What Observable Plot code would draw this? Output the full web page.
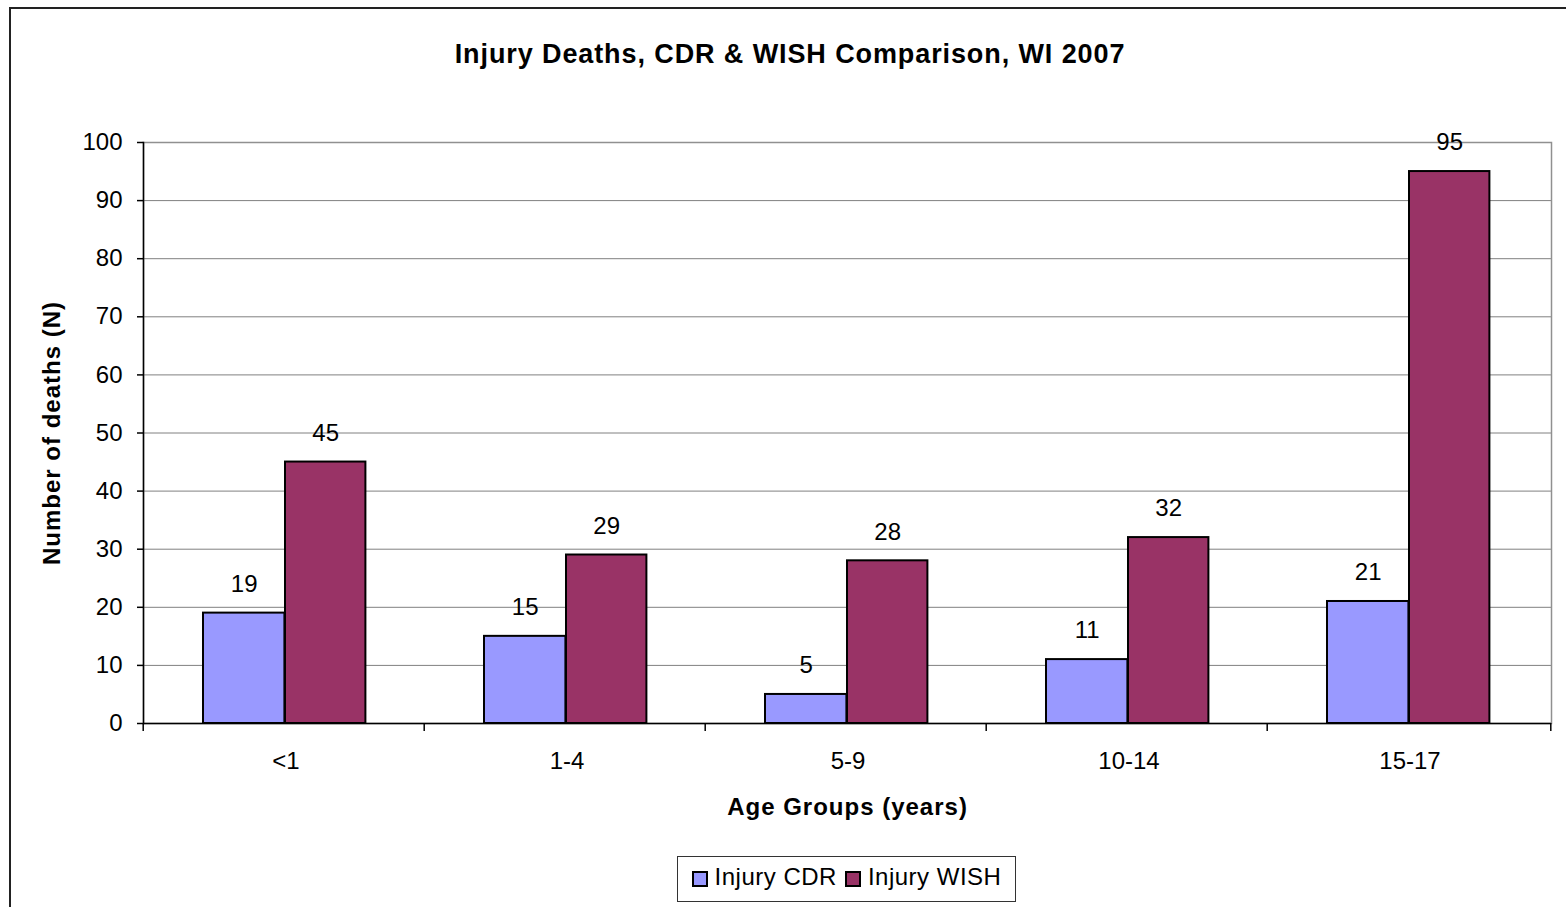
<!DOCTYPE html>
<html>
<head>
<meta charset="utf-8">
<script src="https://cdn.jsdelivr.net/npm/d3@7"></script>
<script src="https://cdn.jsdelivr.net/npm/@observablehq/plot@0.6"></script>
<style>
  html, body { margin: 0; padding: 0; background: #fff; }
  #wrap { position: relative; width: 1566px; height: 907px; overflow: hidden; font-family: "Liberation Sans", Arial, sans-serif; }
  #border { position: absolute; left: 9px; top: 7px; width: 1600px; height: 960px; border: 2px solid #222; box-sizing: border-box; }
  #title { position: absolute; left: 10px; width: 1560px; top: 39px; text-align: center; font-weight: bold; font-size: 27px; letter-spacing: 0.9px; color: #000; }
  #chart { position: absolute; left: 0; top: 0; }
  #legend { position: absolute; left: 677px; top: 856px; width: 339px; height: 46px; border: 1px solid #333; box-sizing: border-box; background: #fff;
            display: flex; align-items: center; justify-content: center; font-size: 24px; letter-spacing: 0.5px; color: #000; padding-bottom: 4px; }
  .item { display: flex; align-items: center; margin: 0 4px; }
  .sw { width: 12px; height: 12px; border: 2px solid #000; margin-right: 7px; margin-top: 4px; }
</style>
</head>
<body>
<div id="wrap">
  <div id="border"></div>
  <div id="title">Injury Deaths, CDR &amp; WISH Comparison, WI 2007</div>
  <div id="chart"></div>
  <div id="legend"></div>
</div>
<script>
const categories = ["<1", "1-4", "5-9", "10-14", "15-17"];
const cdrValues = [19, 15, 5, 11, 21];
const wishValues = [45, 29, 28, 32, 95];
const seriesNames = ["Injury CDR", "Injury WISH"];
const seriesColors = ["#9999FF", "#993366"];
const yTicks = [0, 10, 20, 30, 40, 50, 60, 70, 80, 90, 100];
const xTitle = "Age Groups (years)";
const yTitle = "Number of deaths (N)";

const cdrRows = categories.map((c, i) => ({age: c, series: seriesNames[0], value: cdrValues[i]}));
const wishRows = categories.map((c, i) => ({age: c, series: seriesNames[1], value: wishValues[i]}));

const W = 1566, H = 907;
const mL = 143, mR = 15, mT = 142, mB = 184;
const band = (W - mL - mR) / categories.length;
const font = "'Liberation Sans', Arial, sans-serif";
const shift = -2;

const chart = Plot.plot({
  width: W,
  height: H,
  marginLeft: mL,
  marginRight: mR,
  marginTop: mT,
  marginBottom: mB,
  style: {fontFamily: font, fontSize: "24px", color: "#000", background: "transparent", overflow: "visible"},
  x: {domain: categories, padding: 0, label: null},
  y: {domain: [0, 100], label: null},
  color: {domain: seriesNames, range: seriesColors},
  marks: [
    Plot.ruleY(yTicks.slice(1), {y: d => d, stroke: "#808080", strokeWidth: 1}),
    Plot.frame({stroke: "#909090", strokeWidth: 1.5}),
    Plot.barY(cdrRows, {x: "age", y: "value", fill: "series", stroke: "#000", strokeWidth: 2,
      insetLeft: 60 + shift, insetRight: band - 142 - shift}),
    Plot.barY(wishRows, {x: "age", y: "value", fill: "series", stroke: "#000", strokeWidth: 2,
      insetLeft: 142 + shift, insetRight: band - 223 - shift}),
    Plot.text(cdrRows, {x: "age", y: "value", text: d => String(d.value), dx: 101 + shift - band / 2, dy: -29,
      lineAnchor: "middle", fontSize: 24, fill: "#000"}),
    Plot.text(wishRows, {x: "age", y: "value", text: d => String(d.value), dx: 182.5 + shift - band / 2, dy: -29,
      lineAnchor: "middle", fontSize: 24, fill: "#000"}),
    Plot.ruleY([0], {stroke: "#000", strokeWidth: 1.5}),
    Plot.frame({anchor: "left", stroke: "#000", strokeWidth: 1.5}),
    Plot.axisY({ticks: yTicks, tickSize: 6, tickPadding: 15, tickFormat: d => String(d), stroke: "#000", strokeWidth: 1.5, label: null, fontSize: 24}),
    Plot.axisX({tickSize: 0, tickPadding: 28, label: null, fontSize: 24}),
    Plot.axisX({tickSize: 8, tickFormat: () => "", dx: shift - band / 2, stroke: "#000", strokeWidth: 1.5, label: null}),
    Plot.axisX({ticks: [categories[categories.length - 1]], tickSize: 8, tickFormat: () => "", dx: band / 2, stroke: "#000", strokeWidth: 1.5, label: null}),
    Plot.text([xTitle], {frameAnchor: "bottom", dy: 84, text: d => d, fontWeight: "bold", fontSize: 24, lineAnchor: "middle", fill: "#000"}),
    Plot.text([yTitle], {frameAnchor: "left", dx: -91, rotate: -90, text: d => d, textAnchor: "middle", fontWeight: "bold", fontSize: 24, lineAnchor: "middle", fill: "#000"})
  ]
});
d3.select(chart).selectAll("text")
  .filter(function () { return this.textContent === xTitle || this.textContent === yTitle; })
  .style("letter-spacing", "1px");
document.getElementById("chart").appendChild(chart);

const legend = document.getElementById("legend");
seriesNames.forEach((name, i) => {
  const item = document.createElement("div");
  item.className = "item";
  const sw = document.createElement("div");
  sw.className = "sw";
  sw.style.background = seriesColors[i];
  const label = document.createElement("span");
  label.textContent = name;
  item.appendChild(sw);
  item.appendChild(label);
  legend.appendChild(item);
});
</script>
</body>
</html>
